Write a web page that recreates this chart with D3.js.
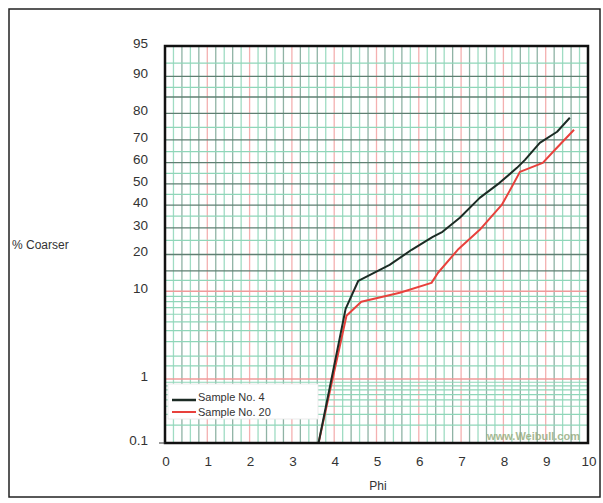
<!DOCTYPE html>
<html lang="en">

<head>
  <meta charset="UTF-8">
  <title>% Coarser vs Phi</title>
  <script src="https://d3js.org/d3.v7.min.js"></script>
  <style>
    body { margin: 0; background: #fff; }
    text { font-family: "Liberation Sans", Arial, sans-serif; }
  </style>
</head>

<body>
  <div id="chart"></div>

  <script>

    // data (phi, cumulative % coarser)
    const sample4Phi = [3.63, 4.27, 4.57, 5.31, 5.83, 6.33, 6.56, 6.97, 7.44, 7.91, 8.32, 8.51, 8.86, 9.27, 9.57];
    const sample4Pct = [0.1, 6.8, 12.4, 16.7, 21.6, 26.4, 28.4, 34.3, 43.4, 50.5, 57.6, 61.3, 68.8, 73.3, 78.5];

    const sample20Phi = [3.63, 4.29, 4.64, 5.55, 6.30, 6.45, 6.92, 7.44, 7.96, 8.20, 8.39, 8.63, 8.93, 9.22, 9.67];
    const sample20Pct = [0.1, 5.8, 8.0, 9.7, 11.9, 14.4, 21.6, 29.2, 40.1, 48.6, 55.7, 57.6, 59.9, 65.8, 74.1];

    const xTicks = [0, 1, 2, 3, 4, 5, 6, 7, 8, 9, 10];
    const yTicks = [0.1, 1, 10, 20, 30, 40, 50, 60, 70, 80, 90, 95];

    const gridRed = [1, 10];
    const gridDark = [15, 20, 30, 40, 50, 60, 70, 80, 85, 90];
    const gridGreen = [0.2, 0.3, 0.4, 0.5, 0.6, 0.7, 0.8, 0.9, 1.5, 2, 3, 4, 5, 6, 7, 8, 9,
      12.5, 25, 35, 45, 55, 65, 75, 87.5, 92.5];

    const seriesNames = ['Sample No. 4', 'Sample No. 20'];
    const seriesColors = ['#1c2b24', '#e8413c'];

    // inverse normal cdf (Acklam)
    const probit = p => {
      const a = [-39.69683028665376, 220.9460984245205, -275.9285104469687, 138.3577518672690, -30.66479806614716, 2.506628277459239];
      const b = [-54.47609879822406, 161.5853275074070, -155.6989798598866, 66.80131188771972, -13.28068155288572];
      const c = [-0.007784894002430293, -0.3223964580411365, -2.400758277161838, -2.549732539343734, 4.374664141464968, 2.938163982698783];
      const d = [0.007784695709041462, 0.3224671290700398, 2.445134137142996, 3.754408661907416];
      const pl = 0.02425;
      let q, r;
      if (p < pl) {
        q = Math.sqrt(-2 * Math.log(p));
        return (((((c[0] * q + c[1]) * q + c[2]) * q + c[3]) * q + c[4]) * q + c[5]) /
          ((((d[0] * q + d[1]) * q + d[2]) * q + d[3]) * q + 1);
      }
      if (p > 1 - pl) {
        q = Math.sqrt(-2 * Math.log(1 - p));
        return -(((((c[0] * q + c[1]) * q + c[2]) * q + c[3]) * q + c[4]) * q + c[5]) /
          ((((d[0] * q + d[1]) * q + d[2]) * q + d[3]) * q + 1);
      }
      q = p - 0.5;
      r = q * q;
      return (((((a[0] * r + a[1]) * r + a[2]) * r + a[3]) * r + a[4]) * r + a[5]) * q /
        (((((b[0] * r + b[1]) * r + b[2]) * r + b[3]) * r + b[4]) * r + 1);
    };

    const width = 603;
    const height = 503;
    const plotL = 165, plotR = 588, plotT = 46, plotB = 443;

    const svg = d3.select('#chart').append('svg')
      .attr('width', width)
      .attr('height', height);

    svg.append('rect')
      .attr('width', width).attr('height', height)
      .attr('fill', '#fff');

    // outer frame
    svg.append('rect')
      .attr('x', 9).attr('y', 9)
      .attr('width', 591).attr('height', 488)
      .attr('fill', 'none')
      .attr('stroke', '#222')
      .attr('stroke-width', 1.5);

    const x = d3.scaleLinear().domain([0, 10]).range([plotL, plotR]);
    const z = d3.scaleLinear().domain([probit(0.001), probit(0.95)]).range([plotB, plotT]);
    const y = pct => z(probit(pct / 100));

    const grid = svg.append('g');

    // vertical grid, every 0.2 phi
    const vLines = d3.range(1, 50).map(i => i / 5);
    grid.selectAll('.vline')
      .data(vLines)
      .enter()
      .append('line')
      .attr('class', 'vline')
      .attr('x1', d => x(d)).attr('x2', d => x(d))
      .attr('y1', plotT).attr('y2', plotB)
      .attr('stroke', (d, i) => {
        if (Math.abs(d - Math.round(d)) < 1e-6) return '#f4b0b0';
        return (i % 2 === 0) ? '#9fdcc3' : '#8fb3a5';
      })
      .attr('stroke-width', 1.3);

    const hLine = (vals, color, w) => {
      grid.selectAll(null)
        .data(vals)
        .enter()
        .append('line')
        .attr('x1', plotL).attr('x2', plotR)
        .attr('y1', d => y(d)).attr('y2', d => y(d))
        .attr('stroke', color)
        .attr('stroke-width', w);
    };

    hLine(gridGreen, '#8fd6b9', 1.2);
    hLine(gridDark, '#5f7f72', 1.3);
    hLine(gridRed, '#f09a9a', 1.5);

    // watermark
    svg.append('text')
      .attr('x', 580).attr('y', 440)
      .attr('text-anchor', 'end')
      .attr('font-family', '"DejaVu Serif", serif')
      .attr('font-size', 11)
      .attr('font-weight', 'bold')
      .attr('fill', '#93a97a')
      .attr('opacity', 0.8)
      .text('www.Weibull.com');

    // series
    const line = d3.line()
      .x(d => x(d[0]))
      .y(d => y(d[1]));

    const series = [
      d3.zip(sample4Phi, sample4Pct),
      d3.zip(sample20Phi, sample20Pct)
    ];

    svg.selectAll('.series')
      .data([series[1], series[0]])
      .enter()
      .append('path')
      .attr('class', 'series')
      .attr('d', line)
      .attr('fill', 'none')
      .attr('stroke', (d, i) => i === 0 ? seriesColors[1] : seriesColors[0])
      .attr('stroke-width', 2)
      .attr('stroke-linejoin', 'round');

    // legend
    const legend = svg.append('g');
    legend.append('rect')
      .attr('x', 168).attr('y', 384)
      .attr('width', 150).attr('height', 35)
      .attr('fill', '#fff')
      .attr('stroke', '#e6e6e6')
      .attr('stroke-width', 0.8);

    seriesNames.forEach((name, i) => {
      const ly = 400 + i * 12;
      legend.append('line')
        .attr('x1', 172).attr('x2', 196)
        .attr('y1', ly).attr('y2', ly)
        .attr('stroke', seriesColors[i])
        .attr('stroke-width', i === 0 ? 2.5 : 2);
      legend.append('text')
        .attr('x', 198).attr('y', ly - 3 + i * 3)
        .attr('dy', '0.35em')
        .attr('font-size', 11)
        .attr('fill', '#333')
        .text(name);
    });

    // plot frame
    svg.append('rect')
      .attr('x', plotL).attr('y', plotT)
      .attr('width', plotR - plotL).attr('height', plotB - plotT)
      .attr('fill', 'none')
      .attr('stroke', '#111')
      .attr('stroke-width', 2.5);

    // y tick labels
    svg.selectAll('.ylab')
      .data(yTicks)
      .enter()
      .append('text')
      .attr('class', 'ylab')
      .attr('x', 148)
      .attr('y', d => y(d) - 3)
      .attr('dy', '0.35em')
      .attr('text-anchor', 'end')
      .attr('font-size', 13.5)
      .attr('fill', '#333')
      .text(d => d);

    svg.selectAll('.ytick')
      .data([0.1])
      .enter()
      .append('line')
      .attr('x1', plotL - 6).attr('x2', plotL)
      .attr('y1', d => y(d)).attr('y2', d => y(d))
      .attr('stroke', '#333');

    // x tick labels
    svg.selectAll('.xlab')
      .data(xTicks)
      .enter()
      .append('text')
      .attr('class', 'xlab')
      .attr('x', d => x(d) + 1)
      .attr('y', 466)
      .attr('text-anchor', 'middle')
      .attr('font-size', 13.5)
      .attr('fill', '#333')
      .text(d => d);

    svg.append('text')
      .attr('x', 378).attr('y', 490)
      .attr('text-anchor', 'middle')
      .attr('font-size', 12)
      .attr('fill', '#333')
      .text('Phi');

    svg.append('text')
      .attr('x', 12).attr('y', 249)
      .attr('font-size', 12)
      .attr('fill', '#333')
      .text('% Coarser');

  </script>
</body>

</html>
